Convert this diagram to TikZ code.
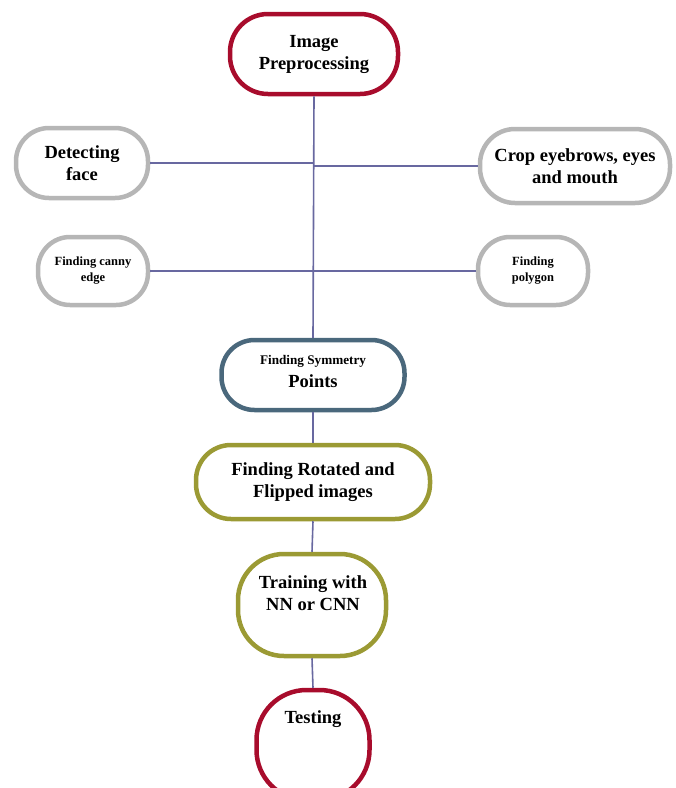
\documentclass[tikz,border=0pt]{standalone}
\usepackage{fontspec}
\setmainfont{Liberation Serif}
\definecolor{crim}{RGB}{168,12,44}
\definecolor{grayb}{RGB}{182,182,182}
\definecolor{bluegr}{RGB}{74,104,124}
\definecolor{olive}{RGB}{155,154,52}
\definecolor{linec}{RGB}{104,104,160}
\begin{document}
\begin{tikzpicture}[x=1pt,y=-1pt,
  box/.style={draw, line width=4.5pt, fill=white, align=center, inner sep=0pt, font=\bfseries},
  big/.style={font=\fontsize{18.5}{22}\selectfont\bfseries},
  small/.style={font=\fontsize{12.5}{16}\selectfont\bfseries},
  lbl/.style={align=center, inner sep=0pt},
  conn/.style={draw=linec, line width=1.6pt}]
\useasboundingbox (0,0) rectangle (676,788);
\clip (0,0) rectangle (676,788);
\coordinate (spine) at (314,0);
% nodes
\node[box, big, draw=crim, minimum width=168pt, minimum height=80pt, rounded corners=38pt] (pre) at (314,54) {Image\\Preprocessing};
\node[box, big, draw=grayb, minimum width=132pt, minimum height=70pt, rounded corners=33pt] (det) at (82,163) {Detecting\\face};
\node[box, big, draw=grayb, minimum width=190pt, minimum height=74pt, rounded corners=35pt] (crop) at (575,166) {Crop eyebrows, eyes\\and mouth};
\node[box, small, draw=grayb, minimum width=110pt, minimum height=68pt, rounded corners=32pt] (canny) at (93,271) {Finding canny\\edge};
\node[box, small, draw=grayb, minimum width=110pt, minimum height=68pt, rounded corners=32pt] (poly) at (533,271) {Finding\\polygon};
\node[box, draw=bluegr, minimum width=183pt, minimum height=70pt, rounded corners=33pt] (sym) at (313,375) {};
\node[lbl, font=\fontsize{13.2}{16}\selectfont\bfseries] (symA) at (313,361) {Finding Symmetry};
\node[lbl, big] (symB) at (313,381) {Points};
\node[box, big, draw=olive, minimum width=234pt, minimum height=74pt, rounded corners=35pt] (rot) at (313,482) {Finding Rotated and\\Flipped images};
\node[box, draw=olive, minimum width=148pt, minimum height=102pt, rounded corners=46pt] (train) at (312,605) {};
\node[lbl, big] (trainlbl) at (313,593) {Training with\\NN or CNN};
\node[box, draw=crim, minimum width=113pt, minimum height=110pt, rounded corners=50pt] (test) at (313,745) {};
\node[lbl, big] (testlbl) at (313,719) {Testing};
% connectors
\draw[conn] (pre.south) -- (sym.north);
\draw[conn] (det.east) -- (det.east -| spine);
\draw[conn] (crop.west) -- (crop.west -| spine);
\draw[conn] (canny.east) -- (poly.west);
\draw[conn] (sym.south) -- (rot.north);
\draw[conn] (rot.south) -- (train.north);
\draw[conn] (train.south) -- (test.north);
\end{tikzpicture}
\end{document}
